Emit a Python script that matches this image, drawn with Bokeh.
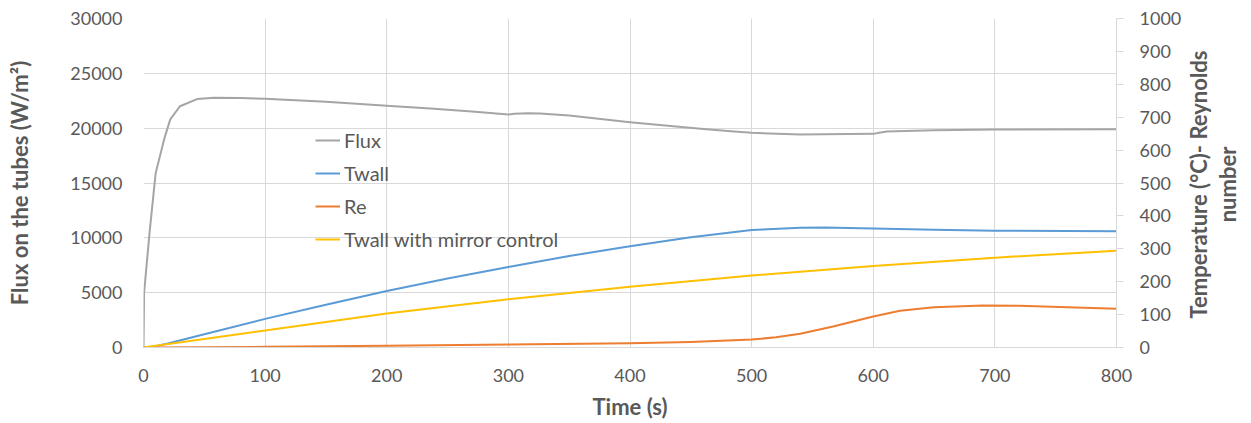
import math
from bokeh.plotting import figure
from bokeh.layouts import row
from bokeh.models import Range1d, LinearAxis, Legend, LegendItem, FixedTicker
from bokeh.core.properties import value
from bokeh.embed import file_html
from bokeh.resources import INLINE

# ---- data ----
flux_t = [0, 0.5, 5, 10, 17, 22, 30, 44, 58, 80, 100, 150, 200, 236, 270, 300, 305, 316, 326, 350,
          400, 458, 483, 500, 540, 600, 605, 611, 650, 700, 800]
flux = [0, 5000, 10500, 15900, 19000, 20800, 22000, 22650, 22780, 22750, 22680, 22400, 22050, 21790,
        21520, 21250, 21320, 21370, 21340, 21150, 20550, 19940, 19720, 19580, 19420, 19480, 19580,
        19700, 19820, 19880, 19900]

twall_t = [0, 10, 20, 50, 100, 150, 200, 250, 300, 350, 400, 450, 500, 540, 560, 600, 650, 700, 800]
twall = [0, 4, 12, 40, 87, 130, 172, 210, 245, 278, 308, 335, 357, 364, 365, 362, 358, 355, 353]

re_t = [0, 100, 200, 300, 400, 450, 480, 500, 520, 540, 567, 600, 622, 650, 690, 720, 800]
re = [0, 2, 5, 9, 13, 17, 21, 24, 31, 42, 64, 94, 112, 122, 128, 127, 118]

mirror_t = [0, 100, 200, 300, 400, 500, 600, 700, 800]
mirror = [0, 52, 103, 147, 185, 219, 248, 273, 294]

x_ticks = list(range(0, 801, 100))
left_ticks = list(range(0, 30001, 5000))
right_ticks = list(range(0, 1001, 100))

series_names = ["Flux", "Twall", "Re", "Twall with mirror control"]
colors = ["#A5A5A5", "#5B9BD5", "#ED7D31", "#FFC000"]
right_title_lines = ["Temperature (°C)- Reynolds", "number"]

TXT = "#595959"
GRID = "#D9D9D9"
FONT = "Lato"

p = figure(frame_width=973, frame_height=329,
           x_range=Range1d(0, 800), y_range=Range1d(0, 30000),
           output_backend="svg", toolbar_location=None,
           min_border_left=143, min_border_right=70, min_border_top=18, min_border_bottom=60)
p.extra_y_ranges = {"right": Range1d(0, 1000)}
p.outline_line_color = None
p.background_fill_color = "white"

# grids
p.xgrid.grid_line_color = GRID
p.ygrid.grid_line_color = GRID

# bottom axis
xa = p.xaxis[0]
xa.ticker = FixedTicker(ticks=x_ticks)
xa.axis_line_color = GRID
xa.major_tick_line_color = None
xa.minor_tick_line_color = None
xa.major_label_text_font = FONT
xa.major_label_text_font_size = "18px"
xa.major_label_text_color = TXT
xa.major_label_standoff = 15
xa.axis_label = "Time (s)"
xa.axis_label_text_font = FONT
xa.axis_label_text_font_style = "bold"
xa.axis_label_text_font_size = "22px"
xa.axis_label_text_color = TXT
xa.axis_label_standoff = 8

# left axis
ya = p.yaxis[0]
ya.ticker = FixedTicker(ticks=left_ticks)
ya.axis_line_color = None
ya.major_tick_line_color = None
ya.minor_tick_line_color = None
ya.major_label_text_font = FONT
ya.major_label_text_font_size = "18px"
ya.major_label_text_color = TXT
ya.major_label_standoff = 15
ya.axis_label = "Flux on the tubes (W/m²)"
ya.axis_label_text_font = FONT
ya.axis_label_text_font_style = "bold"
ya.axis_label_text_font_size = "22px"
ya.axis_label_text_color = TXT
ya.axis_label_standoff = 34

# right axis (ticks + labels)
ra = LinearAxis(y_range_name="right", ticker=FixedTicker(ticks=right_ticks))
ra.axis_line_color = GRID
ra.major_tick_line_color = GRID
ra.major_tick_out = 7
ra.major_tick_in = 0
ra.minor_tick_line_color = None
ra.major_label_text_font = FONT
ra.major_label_text_font_size = "18px"
ra.major_label_text_color = TXT
ra.major_label_standoff = 16
p.add_layout(ra, "right")

# lines
r_flux = p.line(flux_t, flux, line_color=colors[0], line_width=2, line_join="round")
r_twall = p.line(twall_t, twall, line_color=colors[1], line_width=2, line_join="round", y_range_name="right")
r_re = p.line(re_t, re, line_color=colors[2], line_width=2, line_join="round", y_range_name="right")
r_mir = p.line(mirror_t, mirror, line_color=colors[3], line_width=2, line_join="round", y_range_name="right")

legend = Legend(items=[LegendItem(label=n, renderers=[r]) for n, r in
                       zip(series_names, [r_flux, r_twall, r_re, r_mir])],
                location=(172, 96))
legend.background_fill_alpha = 0
legend.border_line_alpha = 0
legend.padding = 0
legend.margin = 0
legend.spacing = 9
legend.glyph_width = 25
legend.glyph_height = 20
legend.label_height = 20
legend.label_standoff = 4
legend.label_text_font = FONT
legend.label_text_font_size = "20px"
legend.label_text_color = TXT
p.add_layout(legend)

# right-hand axis title: a narrow text panel beside the chart (reads bottom to top)
t = figure(frame_width=57, frame_height=407, x_range=Range1d(0, 57), y_range=Range1d(0, 407),
           output_backend="svg", toolbar_location=None, x_axis_location=None, y_axis_location=None,
           min_border_left=0, min_border_right=0, min_border_top=0, min_border_bottom=0)
t.outline_line_color = None
t.grid.visible = False
t.text(x=[12, 41], y=[241, 241], text=right_title_lines, angle=math.pi / 2,
       text_align="center", text_baseline="middle", text_font=value(FONT),
       text_font_style="bold", text_font_size="22px", text_color=TXT)

layout = row(p, t)
open("out.html", "w").write(file_html(layout, INLINE))
